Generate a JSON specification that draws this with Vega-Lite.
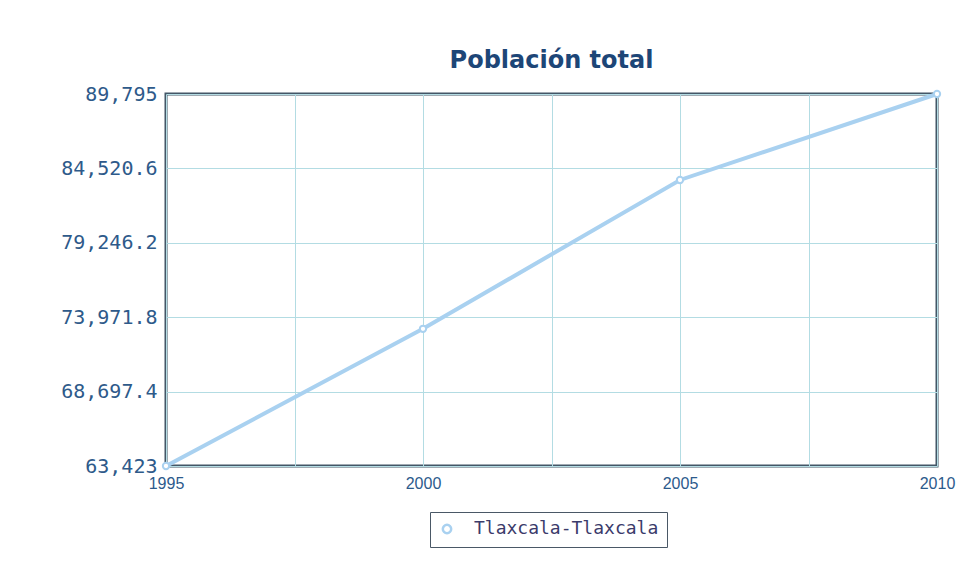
{
  "$schema": "https://vega.github.io/schema/vega-lite/v6.json",
  "width": 771,
  "height": 372,
  "autosize": {"type": "none"},
  "padding": {"left": 166, "top": 94, "right": 23, "bottom": 110},
  "background": "white",
  "title": {
    "text": "Población total",
    "font": "DejaVu Sans",
    "fontSize": 24,
    "fontWeight": "bold",
    "color": "#1d4677",
    "anchor": "middle",
    "offset": 11
  },
  "data": {
    "values": [
      {"year": 1995, "poblacion": 63423, "serie": "Tlaxcala-Tlaxcala"},
      {"year": 2000, "poblacion": 73150, "serie": "Tlaxcala-Tlaxcala"},
      {"year": 2005, "poblacion": 83700, "serie": "Tlaxcala-Tlaxcala"},
      {"year": 2010, "poblacion": 89795, "serie": "Tlaxcala-Tlaxcala"}
    ]
  },
  "encoding": {
    "x": {
      "field": "year",
      "type": "quantitative",
      "scale": {"domain": [1995, 2010], "nice": false, "zero": false},
      "axis": {
        "title": null,
        "values": [1995, 1997.5, 2000, 2002.5, 2005, 2007.5, 2010],
        "labelExpr": "datum.value % 5 == 0 ? '' + datum.value : ''",
        "domain": false,
        "ticks": false,
        "grid": true,
        "gridColor": "#b3dce3",
        "gridWidth": 1,
        "gridOpacity": 1,
        "labelFont": "Liberation Sans",
        "labelFontSize": 16,
        "labelColor": "#2c5a8c",
        "labelPadding": 9,
        "labelFlush": false
      }
    },
    "y": {
      "field": "poblacion",
      "type": "quantitative",
      "scale": {"domain": [63423, 89795], "nice": false, "zero": false},
      "axis": {
        "title": null,
        "values": [63423, 68697.4, 73971.8, 79246.2, 84520.6, 89795],
        "format": ",.1~f",
        "domain": false,
        "ticks": false,
        "grid": true,
        "gridColor": "#b3dce3",
        "gridWidth": 1,
        "gridOpacity": 1,
        "labelFont": "DejaVu Sans Mono",
        "labelFontSize": 20,
        "labelColor": "#2e5a8a",
        "labelPadding": 9,
        "labelFlush": false
      }
    }
  },
  "layer": [
    {
      "mark": {"type": "line", "strokeWidth": 4, "strokeCap": "round"},
      "encoding": {
        "color": {
          "field": "serie",
          "type": "nominal",
          "scale": {"range": ["#a9d1f0"]},
          "legend": {
            "title": null,
            "orient": "none",
            "legendX": 264,
            "legendY": 418,
            "symbolType": "circle",
            "symbolFillColor": "white",
            "symbolStrokeColor": "#a9d1f0",
            "symbolStrokeWidth": 2.5,
            "symbolSize": 70,
            "labelFont": "DejaVu Sans Mono",
            "labelFontSize": 18,
            "labelLimit": 400,
            "labelColor": "#3b3b6b",
            "strokeColor": "#4a5866",
            "fillColor": "white",
            "padding": 8,
            "labelOffset": 18,
            "cornerRadius": 0
          }
        }
      }
    },
    {
      "mark": {"type": "point", "filled": true, "fill": "white", "stroke": "#a9d1f0", "strokeWidth": 2, "size": 40, "opacity": 1}
    }
  ],
  "config": {
    "view": {"stroke": "#435667", "strokeWidth": 3}
  }
}
